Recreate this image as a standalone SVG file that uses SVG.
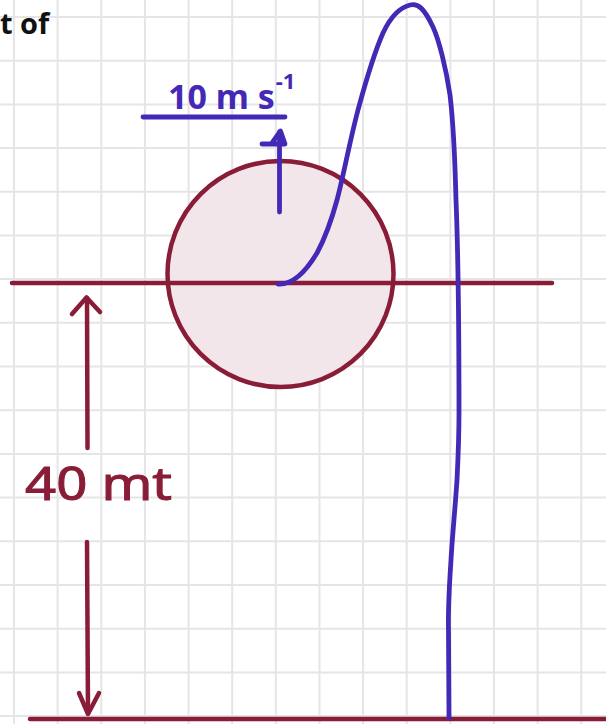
<svg xmlns="http://www.w3.org/2000/svg" width="606" height="724" viewBox="0 0 606 724">
  <style>
    .grid { stroke: #e5e5e5; stroke-width: 2; fill: none; }
    .red { stroke: #891c37; stroke-width: 4.5; fill: none; stroke-linecap: round; stroke-linejoin: round; }
    .blue { stroke: #4428b6; stroke-width: 4.8; fill: none; stroke-linecap: round; stroke-linejoin: round; }
    .hand-red { fill: #891c37; stroke: #891c37; stroke-width: 1; font-family: "Noto Sans", "DejaVu Sans", sans-serif; }
    .hand-blue { fill: #4428b6; font-family: "Noto Sans", "DejaVu Sans", sans-serif; font-weight: bold; }
  </style>
  <rect x="0" y="0" width="606" height="724" fill="#ffffff"/>
  <g id="grid">
    <path class="grid" d="M14,0V724 M57.6,0V724 M101.3,0V724 M144.9,0V724 M188.6,0V724 M232.2,0V724 M275.8,0V724 M319.5,0V724 M363.1,0V724 M406.7,0V724 M450.4,0V724 M494,0V724 M537.6,0V724 M581.3,0V724
      M0,17H606 M0,60.7H606 M0,104.4H606 M0,148.1H606 M0,191.8H606 M0,235.4H606 M0,279.1H606 M0,322.8H606 M0,366.5H606 M0,410.2H606 M0,453.9H606 M0,497.6H606 M0,541.3H606 M0,585H606 M0,628.7H606 M0,672.4H606 M0,716H606"/>
  </g>
  <g id="title">
    <text x="0" y="34" font-family="'Open Sans', 'Liberation Sans', sans-serif" font-weight="bold" font-size="29" fill="#111111">t of</text>
  </g>
  <g id="ball">
    <circle cx="280.5" cy="274" r="113" fill="#f2e6ea" stroke="#891c37" stroke-width="4.5"/>
  </g>
  <g id="levels">
    <line class="red" x1="12" y1="283" x2="552" y2="283"/>
    <line class="red" x1="30" y1="719" x2="610" y2="719"/>
  </g>
  <g id="connectors">
    <g id="height-arrow-up">
      <line class="red" x1="87.5" y1="448" x2="87" y2="298"/>
      <polyline class="red" points="72,314 86.5,297.5 100,312"/>
    </g>
    <g id="height-arrow-down">
      <line class="red" x1="87" y1="542" x2="88" y2="713"/>
      <polyline class="red" points="79,693 88,714 99,693"/>
    </g>
    <g id="velocity-arrow">
      <line class="blue" x1="279.5" y1="212" x2="279.5" y2="132"/>
      <path class="blue" d="M262,144 L285,144 L280.5,131 L272,143"/>
      <line class="blue" x1="143" y1="117" x2="285" y2="117"/>
    </g>
    <g id="trajectory">
      <path class="blue" d="M278,284 C292,285 305,273 317,253 C324,240 331,222 337,200 C343,178 350,140 358,110 C364,88 372,58 383,33 C390,18 398,8 410,5 C418,3 424,8 433,27 C439,40 446,68 450,95 C453,120 455,160 456,200 C458,250 459,350 459,413 C459,440 458,460 457,480 C455,510 452,540 451,560 C449,590 448,610 448.5,630 C449,670 449,700 449,718"/>
    </g>
  </g>
  <g id="label-40mt">
    <text class="hand-red" x="25" y="500" font-size="46" textLength="147" lengthAdjust="spacingAndGlyphs">40 mt</text>
  </g>
  <g id="label-velocity">
    <text class="hand-blue" x="168" y="109" font-size="34">10 m s<tspan dx="1" dy="-20" font-size="22">-1</tspan></text>
  </g>
</svg>
